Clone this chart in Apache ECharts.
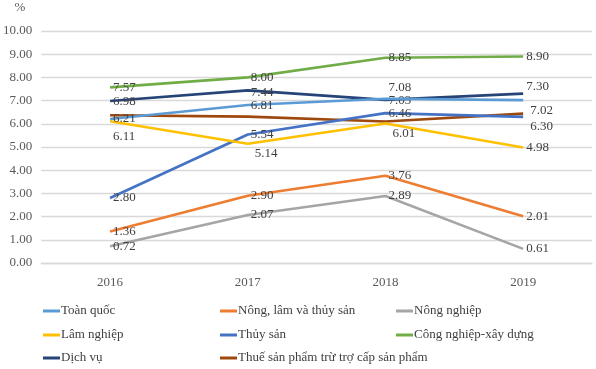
<!DOCTYPE html>
<html><head><meta charset="utf-8">
<script src="https://cdn.jsdelivr.net/npm/echarts@6/dist/echarts.min.js"></script>
<style>html,body{margin:0;padding:0;background:#fff}#c{width:596px;height:369px}</style>
</head><body><div id="c"></div>
<script>
const years = ['2016','2017','2018','2019'];
const yTicks = [0,1,2,3,4,5,6,7,8,9,10];
const toanQuoc = [6.21, 6.81, 7.08, 7.02];
const nongLamThuy = [1.36, 2.90, 3.76, 2.01];
const nongNghiep = [0.72, 2.07, 2.89, 0.61];
const lamNghiep = [6.11, 5.14, 6.01, 4.98];
const thuySan = [2.80, 5.54, 6.46, 6.30];
const congNghiep = [7.57, 8.00, 8.85, 8.90];
const dichVu = [6.98, 7.44, 7.03, 7.30];
const thue = [6.37, 6.31, 6.10, 6.44];

const names = ['Toàn quốc','Nông, lâm và thủy sản','Nông nghiệp','Lâm nghiệp','Thủy sản','Công nghiệp-xây dựng','Dịch vụ','Thuế sản phẩm trừ trợ cấp sản phẩm'];
const colors = ['#5B9BD5','#ED7D31','#A5A5A5','#FFC000','#4472C4','#70AD47','#264478','#9E480E'];
const dataSets = [toanQuoc,nongLamThuy,nongNghiep,lamNghiep,thuySan,congNghiep,dichVu,thue];
const offs = {
  'Toàn quốc': [[0,0],[0,1],[0,-11],[4,10]],
  'Lâm nghiệp': [[0,15],[4,10],[4,10],[0,0]],
  'Thủy sản': [[0,0],[0,0],[0,0],[4,10]],
  'Dịch vụ': [[0,1],[0,2],[0,1],[0,-7]]
};
const font = 'Liberation Serif';
const series = names.map((n,i)=>({
  name:n, type:'line', symbol:'circle', symbolSize:0, lineStyle:{width:2.6, color:colors[i]}, itemStyle:{color:colors[i]},
  z: 10-i,
  data: dataSets[i].map((v,j)=>{
    const o = offs[n] ? offs[n][j] : [0,0];
    return {value:v, label:{show: n!==names[7], position:'right', distance:3, offset:o,
      formatter:(p)=>p.value.toFixed(2), color:'#404040', fontFamily:font, fontSize:13}};
  })
}));
const legPos = [[38,299],[215,299],[391,299],[38,323],[215,323],[391,323],[38,346],[215,346]];
const legends = names.map((n,i)=>({orient:'horizontal', left:legPos[i][0], top:legPos[i][1], itemWidth:17, itemHeight:3, icon:'rect',
  data:[n], textStyle:{fontFamily:font, fontSize:13, color:'#404040', lineHeight:14, padding:[0,0,0,-4]}}));
const chart = echarts.init(document.getElementById('c'));
chart.setOption({
  animation:false,
  grid:{left:39, right:4, top:31, bottom:106},
  legend:legends,
  xAxis:{type:'category', data:years, boundaryGap:true,
    axisLine:{lineStyle:{color:'#d9d9d9', width:1.3}}, axisTick:{show:false},
    axisLabel:{color:'#595959', fontFamily:font, fontSize:13, margin:13}},
  yAxis:{type:'value', min:yTicks[0], max:yTicks[yTicks.length-1], interval:1,
    name:'%', nameLocation:'end', nameGap:17, nameTextStyle:{color:'#595959', fontFamily:font, fontSize:13, align:'right', padding:[0,16,0,0]},
    axisLine:{show:false}, axisTick:{show:false},
    splitLine:{lineStyle:{color:'#d9d9d9', width:1.3}},
    axisLabel:{color:'#595959', fontFamily:font, fontSize:13, margin:9, formatter:(v)=>v.toFixed(2)}},
  series:series
});
</script></body></html>
